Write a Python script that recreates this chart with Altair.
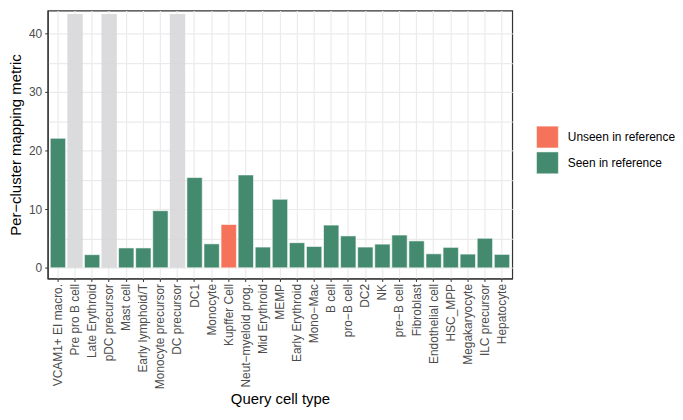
import altair as alt
import pandas as pd

categories = [
    "VCAM1+ EI macro.", "Pre pro B cell", "Late Erythroid", "pDC precursor",
    "Mast cell", "Early lymphoid/T", "Monocyte precursor", "DC precursor",
    "DC1", "Monocyte", "Kupffer Cell", "Neut−myeloid prog.", "Mid Erythroid",
    "MEMP", "Early Erythroid", "Mono−Mac", "B cell", "pro−B cell", "DC2", "NK",
    "pre−B cell", "Fibroblast", "Endothelial cell", "HSC_MPP", "Megakaryocyte",
    "ILC precursor", "Hepatocyte",
]
values = [22.1, None, 2.25, None, 3.4, 3.4, 9.75, None, 15.4, 4.1, 7.4, 15.85,
          3.55, 11.7, 4.3, 3.65, 7.3, 5.45, 3.55, 4.05, 5.6, 4.6, 2.4, 3.5,
          2.35, 5.05, 2.3]
status = ["Seen in reference" if c != "Kupffer Cell" else "Unseen in reference"
          for c in categories]
na_height = 43.3

legend_order = ["Unseen in reference", "Seen in reference"]
legend_colors = ["#F5735A", "#438A6F"]

df = pd.DataFrame({"cell": categories, "value": values, "status": status})
bars_df = df.dropna(subset=["value"])
na_df = pd.DataFrame({"cell": [c for c, v in zip(categories, values) if v is None],
                      "value": [na_height for v in values if v is None]})

font = "Liberation Sans"

xscale = alt.Scale(domain=categories, paddingInner=0.1, paddingOuter=0.15)
yscale = alt.Scale(domain=[-1.81, 43.89], nice=False, zero=False)

xaxis = alt.Axis(
    title="Query cell type", labelAngle=270, labelAlign="right", labelBaseline="middle",
    labelFontSize=12, labelColor="#4D4D4D", labelFont=font, labelPadding=2,
    tickColor="#333333", tickSize=3, tickWidth=1,
    domain=True, domainColor="#333333", domainWidth=1.2,
    grid=True, gridColor="#EBEBEB", gridWidth=1.2, bandPosition=0.5,
    titleFont=font, titleFontSize=15, titleFontWeight="normal", titleColor="#000000",
    titlePadding=3,
)
yaxis = alt.Axis(
    title="Per−cluster mapping metric", values=[0, 5, 10, 15, 20, 25, 30, 35, 40],
    labelExpr="datum.value % 10 == 0 ? datum.label : ''",
    tickOpacity=alt.ExprRef("datum.value % 10 == 0 ? 1 : 0"),
    labelFontSize=12, labelColor="#4D4D4D", labelFont=font, labelPadding=3,
    tickColor="#333333", tickSize=3, tickWidth=1,
    domain=True, domainColor="#333333", domainWidth=1.2,
    grid=True, gridColor="#EBEBEB", gridWidth=1.2,
    titleFont=font, titleFontSize=15, titleFontWeight="normal", titleColor="#000000",
    titlePadding=5,
)

na_layer = alt.Chart(na_df).mark_bar(color="#D7D7DA", opacity=0.9).encode(
    x=alt.X("cell:N", scale=xscale, axis=xaxis, sort=categories),
    y=alt.Y("value:Q", scale=yscale, axis=yaxis),
    y2=alt.datum(0),
)

bar_layer = alt.Chart(bars_df).mark_bar(stroke="white", strokeWidth=0.6).encode(
    x=alt.X("cell:N", scale=xscale, axis=xaxis, sort=categories),
    y=alt.Y("value:Q", scale=yscale, axis=yaxis),
    y2=alt.datum(0),
    color=alt.Color(
        "status:N",
        scale=alt.Scale(domain=legend_order, range=legend_colors),
        legend=alt.Legend(
            title=None, orient="none", legendX=492, legendY=116,
            symbolType="square", symbolSize=484, symbolStrokeWidth=0.5,
            symbolStrokeColor="white",
            labelFontSize=12, labelFont=font, labelColor="#000000", labelOffset=9,
            rowPadding=1,
        ),
    ),
)

chart = alt.layer(na_layer, bar_layer).properties(
    width=468, height=270,
    background="white",
    autosize=alt.AutoSizeParams(type="none"),
    padding={"left": 40, "top": 1, "right": 164, "bottom": 133},
).configure_view(stroke="#333333", strokeWidth=1.2)

chart.save("out.html", embed_options={"renderer": "svg", "actions": False})
